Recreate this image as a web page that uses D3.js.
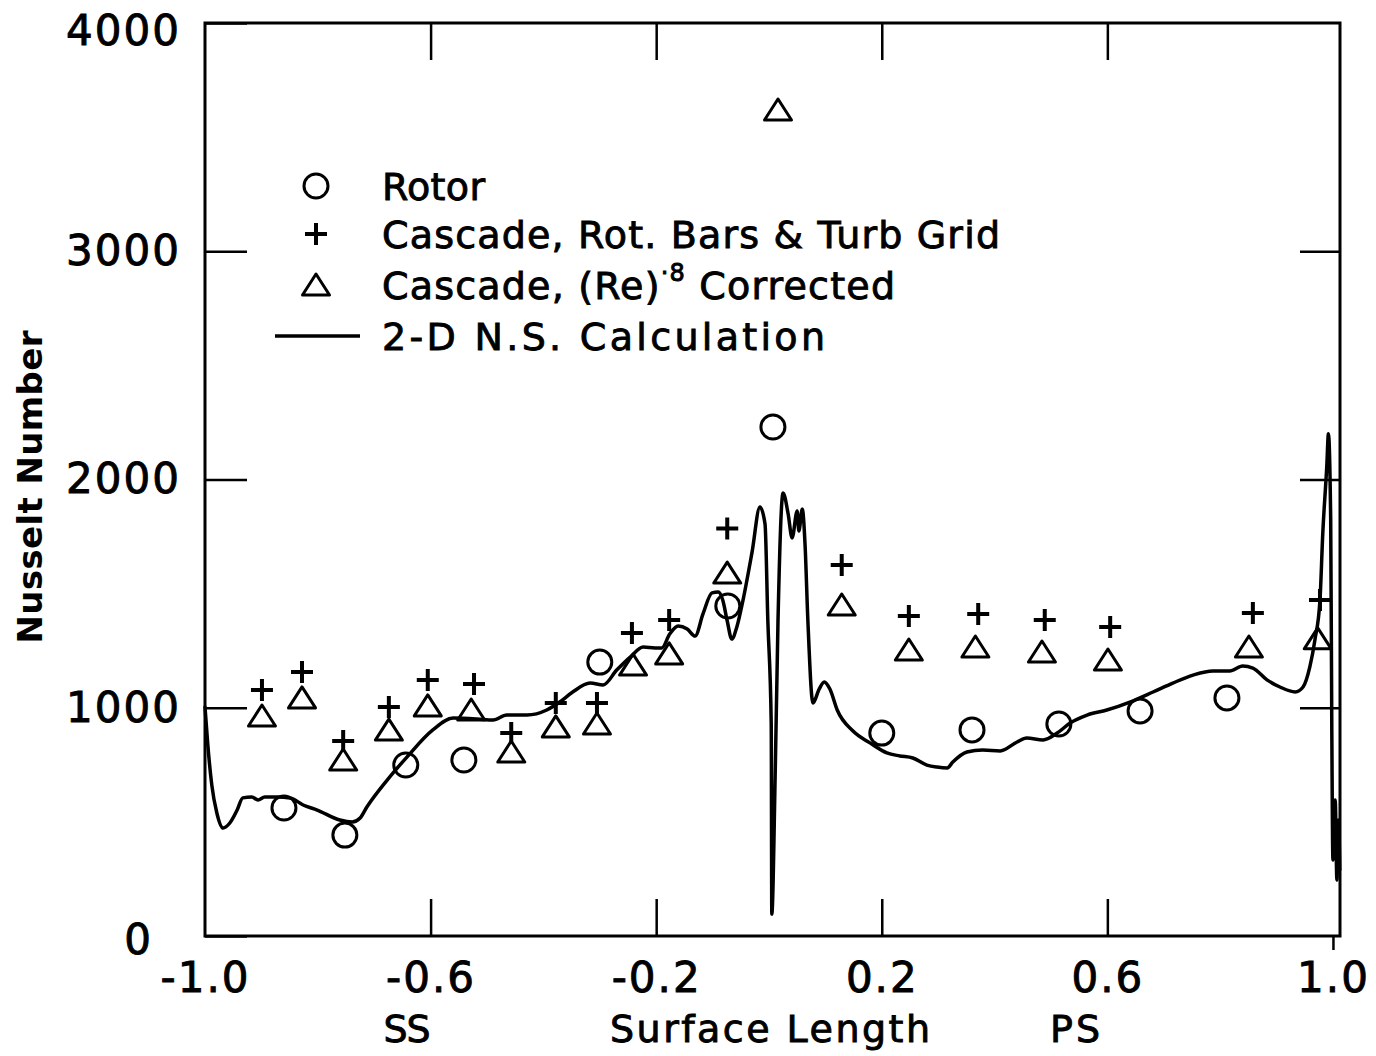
<!DOCTYPE html>
<html><head><meta charset="utf-8">
<script src="https://cdn.jsdelivr.net/npm/d3@7/dist/d3.min.js"></script>
<style>
body{margin:0;background:#fff}
text{font-family:"DejaVu Sans",sans-serif;fill:#000}
.heavy{stroke:#000;stroke-width:0.9px}
</style>
</head><body>
<svg id="chart" width="1376" height="1056"></svg>
<script>
// ---- data ----
const rotorX  = [-0.860,-0.752,-0.644,-0.541,-0.300,-0.073,0.007,0.200,0.360,0.514,0.658,0.812];
const rotorNu = [561,442,749,771,1200,1446,2230,889,903,929,986,1043];

const cascadeX  = [-0.899,-0.828,-0.755,-0.674,-0.605,-0.523,-0.457,-0.378,-0.305,-0.243,-0.177,-0.074,0.129,0.248,0.371,0.489,0.605,0.858,0.977];
const cascadeNu = [1078,1157,854,1003,1122,1104,889,1021,1021,1327,1384,1785,1625,1402,1411,1384,1354,1415,1472];

const correctedX  = [-0.899,-0.828,-0.755,-0.674,-0.605,-0.528,-0.457,-0.378,-0.305,-0.241,-0.177,-0.074,0.016,0.129,0.248,0.366,0.484,0.601,0.851,0.973];
const correctedNu = [964,1043,771,902,1008,990,806,916,929,1187,1236,1590,3619,1450,1253,1266,1244,1209,1266,1302];

const calcX = [-1.000,-0.995,-0.988,-0.979,-0.968,-0.956,-0.943,-0.933,-0.917,-0.906,-0.894,-0.872,-0.849,-0.826,-0.801,-0.761,-0.739,-0.725,-0.713,-0.677,-0.642,-0.596,-0.560,-0.518,-0.489,-0.465,-0.429,-0.394,-0.371,-0.348,-0.317,-0.294,-0.270,-0.246,-0.223,-0.202,-0.190,-0.176,-0.161,-0.145,-0.131,-0.117,-0.101,-0.090,-0.082,-0.074,-0.066,-0.057,-0.046,-0.030,-0.016,-0.007,-0.002,0.004,0.005,0.011,0.016,0.025,0.034,0.041,0.050,0.053,0.059,0.064,0.069,0.078,0.089,0.098,0.108,0.121,0.149,0.179,0.209,0.232,0.255,0.280,0.298,0.316,0.326,0.351,0.379,0.410,0.440,0.457,0.486,0.511,0.534,0.564,0.599,0.640,0.681,0.716,0.752,0.787,0.817,0.840,0.858,0.883,0.906,0.933,0.947,0.959,0.968,0.977,0.982,0.989,0.992,0.996,0.998,1.000,1.004,1.007,1.010,1.012];
const calcNu = [1003,837,662,539,473,495,552,605,609,596,609,609,605,574,552,508,499,517,565,683,784,903,955,951,946,968,968,990,1025,1069,1108,1100,1165,1222,1266,1262,1262,1323,1358,1345,1314,1411,1503,1507,1472,1380,1301,1354,1472,1682,1880,1805,1380,929,96,705,1380,1941,1849,1744,1862,1774,1871,1713,1380,1021,1082,1113,1082,990,898,846,802,789,780,749,740,736,762,806,815,811,850,867,859,889,933,968,990,1025,1069,1108,1143,1161,1161,1183,1174,1122,1091,1069,1091,1179,1297,1472,1766,2055,2200,1823,889,333,596,245,508,289];

const xTicks = [-1.0,-0.6,-0.2,0.2,0.6,1.0];
const xTickLabels = ["-1.0","-0.6","-0.2","0.2","0.6","1.0"];
const xInnerTicks = [-0.6,-0.2,0.2,0.6];
const yTicks = [0,1000,2000,3000,4000];
const yTickLabels = ["0","1000","2000","3000","4000"];
const yInnerTicks = [1000,2000,3000];
const legendLabels = ["Rotor","Cascade, Rot. Bars & Turb Grid","Cascade, (Re)","2-D N.S. Calculation"];
const xTitles = ["SS","Surface Length","PS"];
const yTitle = "Nusselt Number";

// ---- chart ----
const svg = d3.select("#chart");
svg.append("rect").attr("width",1376).attr("height",1056).attr("fill","#fff");

const x = d3.scaleLinear().domain([-1.0,1.0125]).range([205,1340]);
const y = d3.scaleLinear().domain([0,4000]).range([936,23]);

const fs = 42;

// left axis with labels
const gl = svg.append("g").attr("transform",`translate(${x.range()[0]},0)`)
  .call(d3.axisLeft(y).tickValues(yTicks).tickSize(-42).tickPadding(24)
        .tickFormat((d,i)=>yTickLabels[i]));
gl.select(".domain").remove();
gl.selectAll("line").attr("stroke","#000").attr("stroke-width",2.5);
gl.selectAll("text").attr("font-size",fs).attr("letter-spacing",2).attr("font-family",null)
  .attr("class","heavy")
  .attr("dx",d=>d===0?-28:0)
  .attr("dy",d=>d===0?"0.42em":(d===4000?"0.5em":"0.32em"));

// right axis ticks
const gr = svg.append("g").attr("transform",`translate(${x.range()[1]},0)`)
  .call(d3.axisRight(y).tickValues(yInnerTicks).tickSize(-40).tickFormat(""));
gr.select(".domain").remove();
gr.selectAll("line").attr("stroke","#000").attr("stroke-width",2.5);

// top axis ticks
const gt = svg.append("g").attr("transform",`translate(0,${y.range()[1]})`)
  .call(d3.axisTop(x).tickValues(xInnerTicks).tickSize(-37).tickFormat(""));
gt.select(".domain").remove();
gt.selectAll("line").attr("stroke","#000").attr("stroke-width",2.5);

// bottom axis
const gb = svg.append("g").attr("transform",`translate(0,${y.range()[0]})`)
  .call(d3.axisBottom(x).tickValues(xTicks).tickSize(-37).tickPadding(26)
        .tickFormat((d,i)=>xTickLabels[i]));
gb.select(".domain").remove();
gb.selectAll("line").attr("stroke","#000").attr("stroke-width",2.5)
  .attr("y2",d=>d===1.0?14:(d===-1.0?0:-37));
gb.selectAll("text").attr("font-size",fs).attr("letter-spacing",2).attr("font-family",null)
  .attr("class","heavy");

// frame
svg.append("rect").attr("x",x.range()[0]).attr("y",y.range()[1])
  .attr("width",x.range()[1]-x.range()[0]).attr("height",y.range()[0]-y.range()[1])
  .attr("fill","none").attr("stroke","#000").attr("stroke-width",3);

// calculation line
const calc = calcX.map((v,i)=>[v,calcNu[i]]);
svg.append("path").datum(calc)
  .attr("fill","none").attr("stroke","#000").attr("stroke-width",3.5)
  .attr("stroke-linejoin","round").attr("stroke-linecap","round")
  .attr("d",d3.line().x(d=>x(d[0])).y(d=>y(d[1])).curve(d3.curveMonotoneX));

// markers
const triPath = "M0,-11L13.5,10L-13.5,10Z";
const plusPath = "M-11,0H11M0,-11V11";

svg.append("g").selectAll("circle").data(rotorX.map((v,i)=>[v,rotorNu[i]])).join("circle")
  .attr("cx",d=>x(d[0])).attr("cy",d=>y(d[1])).attr("r",12)
  .attr("fill","none").attr("stroke","#000").attr("stroke-width",3);

svg.append("g").selectAll("path").data(correctedX.map((v,i)=>[v,correctedNu[i]])).join("path")
  .attr("transform",d=>`translate(${x(d[0])},${y(d[1])})`).attr("d",triPath)
  .attr("fill","none").attr("stroke","#000").attr("stroke-width",3).attr("stroke-linejoin","round");

svg.append("g").selectAll("path").data(cascadeX.map((v,i)=>[v,cascadeNu[i]])).join("path")
  .attr("transform",d=>`translate(${x(d[0])},${y(d[1])})`).attr("d",plusPath)
  .attr("fill","none").attr("stroke","#000").attr("stroke-width",4);

// legend
const lg = svg.append("g");
const rowsY = [186,234,285,336];
const symX = 316, txtX = 382, lfs = 38;
lg.append("circle").attr("cx",symX).attr("cy",rowsY[0]).attr("r",12)
  .attr("fill","none").attr("stroke","#000").attr("stroke-width",3);
lg.append("path").attr("transform",`translate(${symX},${rowsY[1]})`).attr("d",plusPath)
  .attr("fill","none").attr("stroke","#000").attr("stroke-width",4);
lg.append("path").attr("transform",`translate(${symX},${rowsY[2]})`).attr("d",triPath)
  .attr("fill","none").attr("stroke","#000").attr("stroke-width",3).attr("stroke-linejoin","round");
lg.append("line").attr("x1",275).attr("x2",360).attr("y1",rowsY[3]).attr("y2",rowsY[3])
  .attr("stroke","#000").attr("stroke-width",3.5);

const lens = [103,618,null,443];
[0,1,3].forEach(i=>{
  lg.append("text").attr("class","heavy").attr("x",txtX).attr("y",rowsY[i]+14).attr("font-size",lfs)
    .attr("textLength",lens[i]).attr("lengthAdjust","spacing").text(legendLabels[i]);
});
const t3 = lg.append("text").attr("class","heavy").attr("x",txtX).attr("y",rowsY[2]+14).attr("font-size",lfs)
  .attr("textLength",513).attr("lengthAdjust","spacing");
t3.append("tspan").text(legendLabels[2]);
t3.append("tspan").attr("dy",-18).attr("font-size",24).text("·8");
t3.append("tspan").attr("dy",18).text(" Corrected");

// axis titles
const xtPos = [[407,1042,47],[770,1042,320],[1075,1042,50]];
xTitles.forEach((t,i)=>{
  svg.append("text").attr("class","heavy").attr("x",xtPos[i][0]).attr("y",xtPos[i][1]).attr("text-anchor","middle")
    .attr("font-size",38).attr("textLength",xtPos[i][2]).attr("lengthAdjust","spacing").text(t);
});
svg.append("text").attr("transform","translate(42,487) rotate(-90)").attr("text-anchor","middle")
  .attr("font-size",34).attr("font-weight","bold").attr("textLength",313).attr("lengthAdjust","spacing")
  .text(yTitle);
</script>
</body></html>
